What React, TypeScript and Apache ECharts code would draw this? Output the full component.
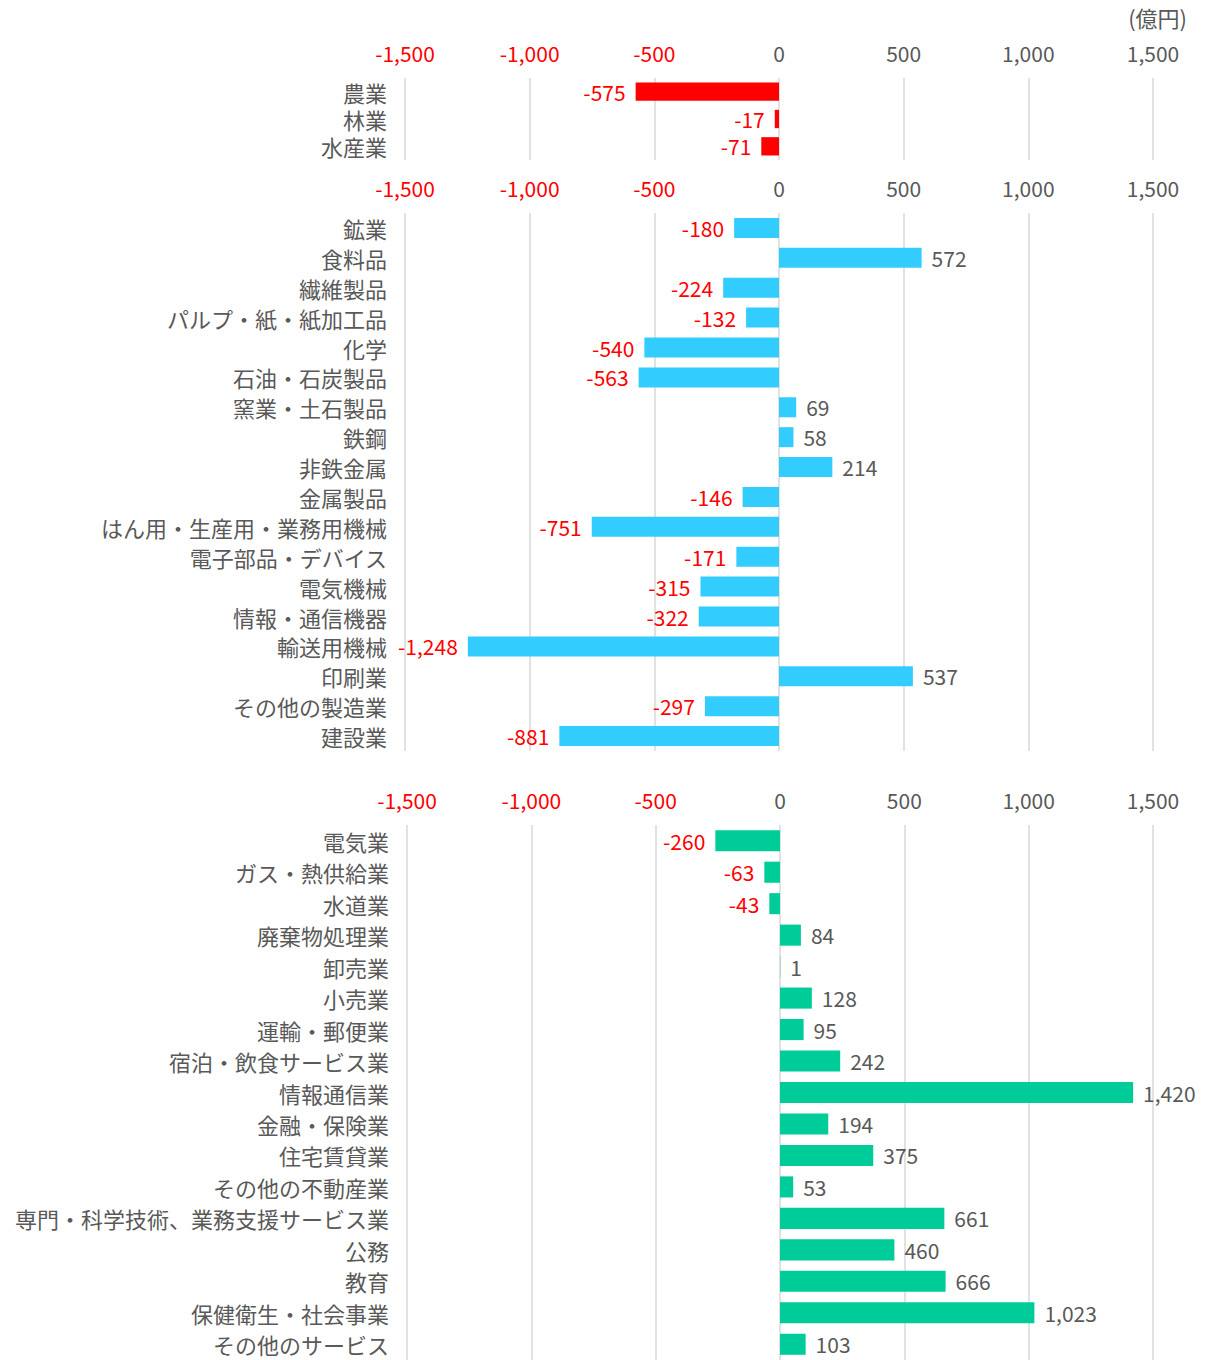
import React, { useEffect, useRef } from "react";
import * as echarts from "echarts";

const primaryCats = ["農業", "林業", "水産業"];
const primaryVals = [-575, -17, -71];

const secondaryCats = [
  "鉱業", "食料品", "繊維製品", "パルプ・紙・紙加工品", "化学", "石油・石炭製品",
  "窯業・土石製品", "鉄鋼", "非鉄金属", "金属製品", "はん用・生産用・業務用機械",
  "電子部品・デバイス", "電気機械", "情報・通信機器", "輸送用機械", "印刷業",
  "その他の製造業", "建設業",
];
const secondaryVals = [-180, 572, -224, -132, -540, -563, 69, 58, 214, -146, -751, -171, -315, -322, -1248, 537, -297, -881];

const tertiaryCats = [
  "電気業", "ガス・熱供給業", "水道業", "廃棄物処理業", "卸売業", "小売業",
  "運輸・郵便業", "宿泊・飲食サービス業", "情報通信業", "金融・保険業", "住宅賃貸業",
  "その他の不動産業", "専門・科学技術、業務支援サービス業", "公務", "教育",
  "保健衛生・社会事業", "その他のサービス",
];
const tertiaryVals = [-260, -63, -43, 84, 1, 128, 95, 242, 1420, 194, 375, 53, 661, 460, 666, 1023, 103];

const axisMin = -1500;
const axisMax = 1500;
const axisStep = 500;
const unitLabel = "(億円)";

const FONT = "'Noto Sans CJK JP', 'Noto Sans', sans-serif";
const GRAY = "#595959";
const RED = "#FF0000";

const fmt = (v: number) => v.toLocaleString("en-US");

export default function App() {
  const ref = useRef<HTMLDivElement>(null);
  useEffect(() => {
    if (!ref.current) return;
    const chart = echarts.init(ref.current, null, { renderer: "svg" });
    const grids = [
      { left: 405, right: 56, top: 78, height: 82 },
      { left: 405, right: 56, top: 213, height: 538 },
      { left: 407, right: 56, top: 825, height: 537 },
    ];
    const sets = [
      { cats: primaryCats, vals: primaryVals, color: "#FF0000" },
      { cats: secondaryCats, vals: secondaryVals, color: "#33CCFF" },
      { cats: tertiaryCats, vals: tertiaryVals, color: "#00CC99" },
    ];
    const xAxis = sets.map((_, i) => ({
      type: "value",
      gridIndex: i,
      position: "top",
      min: axisMin,
      max: axisMax,
      interval: axisStep,
      axisLine: { show: false },
      axisTick: { show: false },
      splitLine: { show: true, lineStyle: { color: "#D9D9D9", width: 1.5 } },
      axisLabel: {
        margin: 15,
        fontSize: 21,
        fontFamily: FONT,
        color: (v: any) => (Number(v) < 0 ? RED : GRAY),
        formatter: (v: number) => fmt(v),
      },
    }));
    const yAxis = sets.map((s, i) => ({
      type: "category",
      gridIndex: i,
      data: s.cats,
      inverse: true,
      axisLine: { show: false },
      axisTick: { show: false },
      axisLabel: {
        interval: 0,
        margin: 18,
        fontSize: 22,
        lineHeight: 20,
        fontFamily: FONT,
        color: GRAY,
        padding: [0, 0, 4, 0],
      },
    }));
    const series = sets.map((s, i) => ({
      type: "bar",
      xAxisIndex: i,
      yAxisIndex: i,
      barCategoryGap: "33%",
      itemStyle: { color: s.color },
      label: {
        show: true,
        fontSize: 21,
        lineHeight: 20,
        fontFamily: FONT,
        distance: 10,
        padding: [0, 0, 3, 0],
        formatter: (p: any) => fmt(p.value),
      },
      data: s.vals.map((v) => ({
        value: v,
        label: { position: v < 0 ? "left" : "right", color: v < 0 ? RED : GRAY },
      })),
    }));
    chart.setOption({
      animation: false,
      grid: grids,
      xAxis,
      yAxis,
      series,
      graphic: [
        {
          type: "text",
          right: 22,
          top: 6,
          style: { text: unitLabel, fontSize: 22, fontFamily: FONT, fill: GRAY },
        },
      ],
    });
    return () => chart.dispose();
  }, []);
  return (
    <div
      ref={ref}
      style={{ position: "absolute", left: 0, top: 0, width: 1209, height: 1360, background: "#fff" }}
    />
  );
}
